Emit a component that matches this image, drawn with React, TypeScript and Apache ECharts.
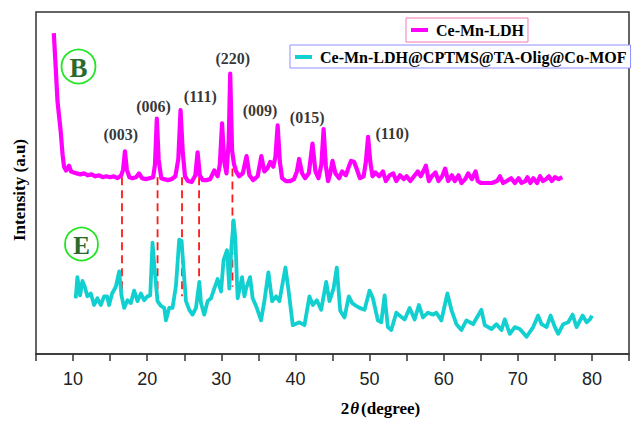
import React, { useEffect, useRef } from 'react';
import * as echarts from 'echarts';

// Ce-Mn-LDH pattern (2θ, intensity a.u.)
const ldhTheta = [
  7.4, 7.66, 7.9, 8.34, 8.58, 8.78, 9.05, 9.46, 9.73, 10.1, 10.5, 11, 11.5, 12, 12.5, 13, 13.5, 14, 14.5, 15, 15.5, 16, 16.5,
  16.75, 17.0, 17.25, 17.6, 18, 18.5, 18.9, 19.3, 19.8, 20.3, 20.8, 21.05, 21.3, 21.55, 21.9, 22.3, 22.8, 23.3, 23.8,
  24.2, 24.5, 24.8, 25.1, 25.5, 26.0, 26.5, 26.8, 27.1, 27.5, 28.0, 28.5, 29.05, 29.5, 29.8, 30.1, 30.4, 30.7, 31.0,
  31.2, 31.45, 31.7, 32.0, 32.4, 32.9, 33.4, 33.8, 34.3, 34.9, 35.4, 35.8, 36.2, 36.6, 37.0, 37.3, 37.6, 37.9, 38.2,
  38.7, 39.3, 39.8, 40.2, 40.5, 40.9, 41.3, 41.8, 42.3, 42.7, 43.1, 43.5, 43.8, 44.1, 44.4, 44.7, 45.0, 45.4, 45.9,
  46.3, 46.8, 47.2, 47.5, 47.9, 48.3, 48.7, 49.2, 49.5, 49.8, 50.1, 50.4, 50.8, 51.3, 51.8, 52.2, 52.7, 53.2, 53.6,
  54.1, 54.6, 55.0, 55.5, 56.0, 56.5, 56.9, 57.3, 57.6, 58.0, 58.4, 58.9, 59.3, 59.8, 60.2, 60.6, 61.1, 61.5, 62.0,
  62.4, 62.9, 63.3, 63.8, 64.3, 64.6, 65.0, 65.8, 66.5, 67.2, 67.6, 68.0, 68.5, 69.1, 69.6, 70.1, 70.5, 71.0, 71.3,
  71.7, 72.1, 72.6, 73.0, 73.4, 73.8, 74.2, 74.6, 75.0, 75.5, 76.0,
];
const ldhIntensity = [
  334, 298, 263, 231, 208, 195, 191, 196, 190, 189, 188, 187, 188, 186, 187, 185, 186, 184, 185, 184, 185, 183, 186,
  192, 211, 192, 184, 183, 184, 188, 183, 182, 183, 184, 197, 245, 202, 183, 182, 181, 182, 185,
  203, 254, 210, 185, 180, 179, 186, 210, 186, 181, 181, 182, 191, 185, 197, 240, 200, 188, 222,
  292, 212, 198, 190, 185, 188, 206, 186, 181, 185, 206, 190, 193, 200, 195, 205, 238, 200, 183,
  180, 180, 182, 190, 203, 188, 183, 188, 219, 190, 183, 197, 234, 196, 180, 188, 201, 188, 183,
  190, 186, 195, 201, 200, 192, 183, 185, 200, 226, 200, 185, 189, 185, 190, 180, 186, 188, 180,
  186, 182, 185, 180, 185, 190, 185, 191, 196, 180, 185, 189, 180, 185, 193, 180, 186, 180, 186,
  178, 182, 188, 182, 190, 180, 178, 178, 178, 180, 185, 178, 180, 183, 178, 183, 178, 180, 184,
  178, 183, 178, 185, 180, 182, 185, 180, 184, 182, 184,
];

// Ce-Mn-LDH@CPTMS@TA-Olig@Co-MOF pattern
const mofTheta = [
  10.36, 10.58, 10.95, 11.26, 11.58, 11.93, 12.39, 12.84, 13.28, 13.74, 14.19, 14.59, 14.86, 15.27, 15.77, 16.22,
  16.53, 16.89, 17.34, 17.8, 18.24, 18.69, 19.15, 19.59, 20.04, 20.41, 20.72, 21.04, 21.39, 21.85, 22.3, 22.53,
  22.97, 23.42, 23.88, 24.32, 24.64, 24.91, 25.23, 25.68, 26.12, 26.58, 27.03, 27.26, 27.7, 28.15, 28.61, 29.05,
  29.5, 29.96, 30.31, 30.77, 31.08, 31.35, 31.66, 31.89, 32.2, 32.8, 33.11, 33.34, 33.88, 34.23, 34.69, 35.36,
  35.81, 36.35, 36.85, 37.39, 37.84, 38.65, 39.09, 39.64, 40.54, 41.22, 41.89, 42.34, 42.88, 43.47, 44.15, 44.59,
  45.14, 45.58, 46.04, 46.62, 47.2, 47.66, 48.2, 48.65, 49.32, 50.0, 50.45, 51.12, 51.58, 52.03, 52.47, 52.93,
  53.61, 54.05, 54.73, 55.41, 56.08, 56.66, 57.2, 57.88, 58.55, 59.01, 59.69, 60.5, 61.04, 61.72, 62.39, 63.07,
  63.96, 65.09, 65.54, 66.45, 67.12, 67.8, 68.24, 68.92, 69.59, 70.27, 71.18, 72.07, 72.74, 73.2, 73.88, 74.42,
  75.0, 75.45, 76.12, 76.8, 77.39, 77.93, 78.74, 79.28, 79.73, 80.0,
];
const mofIntensity = [
  58, 80, 61, 76, 70, 60, 63, 51, 58, 51, 60, 60, 51, 63, 70, 86,
  61, 48, 56, 53, 66, 55, 63, 56, 60, 61, 116, 85, 55, 50, 48, 35,
  48, 48, 71, 119, 118, 88, 55, 46, 41, 48, 75, 53, 41, 55, 58, 68,
  78, 65, 98, 108, 68, 110, 139, 120, 58, 80, 60, 68, 80, 58, 50, 35,
  55, 85, 55, 60, 55, 90, 65, 30, 33, 30, 60, 51, 56, 46, 75, 55,
  68, 90, 45, 38, 60, 53, 50, 48, 46, 66, 58, 35, 33, 61, 28, 25,
  43, 40, 36, 48, 36, 51, 38, 43, 41, 43, 35, 63, 46, 31, 25, 35,
  31, 46, 30, 26, 31, 25, 36, 21, 28, 26, 18, 28, 40, 31, 28, 40,
  28, 21, 31, 33, 41, 28, 40, 33, 36, 40,
];

// dashed reference lines
const refLineTheta = [16.6, 21.4, 24.7, 27.0, 31.5];
const refLineTop = [184, 184, 184, 184, 193];
const refLineBottom = [52, 60, 60, 55, 70];

// Miller index labels
const peakLabels = ['(003)', '(006)', '(111)', '(220)', '(009)', '(015)', '(110)'];
const peakLabelTheta = [16.45, 20.85, 27.16, 31.55, 35.23, 41.58, 53.07];
const peakLabelY = [229, 258, 268, 308, 253, 246, 230];

const seriesNames = ['Ce-Mn-LDH', 'Ce-Mn-LDH@CPTMS@TA-Olig@Co-MOF'];
const tickLabels = ['10', '20', '30', '40', '50', '60', '70', '80'];

const SERIF = '"Liberation Serif", "Times New Roman", serif';
const SANS = '"Liberation Sans", Arial, sans-serif';

export default function App() {
  const ref = useRef<HTMLDivElement>(null);
  useEffect(() => {
    if (!ref.current) return;
    const chart = echarts.init(ref.current, undefined, { renderer: 'svg' });
    const ldhData = ldhTheta.map((t, i) => [t, ldhIntensity[i]]);
    const mofData = mofTheta.map((t, i) => [t, mofIntensity[i]]);
    const dashSeries = refLineTheta.map((t, i) => ({
      type: 'line',
      name: 'ref' + i,
      data: [[t, refLineTop[i]], [t, refLineBottom[i]]],
      symbol: 'none',
      silent: true,
      lineStyle: { color: '#ff1a1a', width: 1.8, type: [8, 5] },
      z: 1,
    }));
    const legendBase = {
      orient: 'horizontal',
      icon: 'rect',
      itemWidth: 17,
      itemHeight: 4,
      borderWidth: 1,
      textStyle: { fontFamily: SERIF, fontWeight: 'bold', fontSize: 16, color: '#000', padding: [0, 0, 0, 3] },
      backgroundColor: '#fff',
    };
    chart.setOption({
      animation: false,
      grid: {
        left: 36,
        right: 2,
        top: 12,
        bottom: 54,
        show: true,
        borderColor: '#333',
        borderWidth: 1.5,
        backgroundColor: 'transparent',
      },
      legend: [
        {
          ...legendBase,
          data: [seriesNames[0]],
          left: 406,
          top: 18,
          padding: [4, 4, 4, 5],
          borderColor: '#f27ab8',
        },
        {
          ...legendBase,
          data: [seriesNames[1]],
          left: 290,
          top: 45,
          padding: [4, 4, 3, 5],
          borderColor: '#9090ff',
        },
      ],
      xAxis: {
        type: 'value',
        min: 5,
        max: 85,
        interval: 5,
        name: '{a|2}{b|θ}{a|(degree)}',
        nameLocation: 'middle',
        nameGap: 46,
        nameTextStyle: {
          padding: [0, 0, 0, 96],
          rich: {
            a: { fontFamily: SERIF, fontWeight: 'bold', fontSize: 17, color: '#000' },
            b: { fontFamily: SERIF, fontWeight: 'bold', fontStyle: 'italic', fontSize: 17, color: '#000', padding: [0, 2, 0, 1] },
          },
        },
        axisLine: { lineStyle: { color: '#333', width: 1.5 } },
        axisTick: { inside: false, length: 7, lineStyle: { color: '#333', width: 1.5 } },
        axisLabel: {
          margin: 16,
          fontFamily: SANS,
          fontSize: 18,
          color: '#222',
          formatter: (v: number) => (tickLabels.includes(String(v)) ? String(v) : ''),
        },
        splitLine: { show: false },
      },
      yAxis: {
        type: 'value',
        min: 0,
        max: 356,
        name: 'Intensity (a.u)',
        nameLocation: 'middle',
        nameGap: 8,
        nameTextStyle: {
          fontFamily: SERIF,
          fontWeight: 'bold',
          fontSize: 17,
          color: '#000',
          padding: [0, 14, 0, 0],
        },
        axisLine: { show: false },
        axisTick: { show: false },
        axisLabel: { show: false },
        splitLine: { show: false },
      },
      series: [
        ...dashSeries,
        {
          type: 'line',
          name: seriesNames[0],
          data: ldhData,
          symbol: 'none',
          color: '#ff00ff',
          lineStyle: { color: '#ff00ff', width: 4.2, join: 'round' },
          z: 3,
        },
        {
          type: 'line',
          name: seriesNames[1],
          data: mofData,
          symbol: 'none',
          color: '#12d0d0',
          lineStyle: { color: '#12d0d0', width: 3.8, join: 'round' },
          z: 2,
        },
        {
          type: 'scatter',
          name: 'labels',
          silent: true,
          symbolSize: 1,
          itemStyle: { color: 'rgba(0,0,0,0)' },
          data: peakLabels.map((n, i) => ({ name: n, value: [peakLabelTheta[i], peakLabelY[i]] })),
          label: {
            show: true,
            position: 'inside',
            formatter: (p: any) => p.name,
            fontFamily: SERIF,
            fontWeight: 'bold',
            fontSize: 16,
            color: '#000',
          },
          z: 5,
        },
      ],
      graphic: [
        { type: 'circle', shape: { cx: 78.5, cy: 66.5, r: 17 }, style: { fill: '#fff', stroke: '#22e622', lineWidth: 1.8 }, z: 10 },
        {
          type: 'text',
          x: 78.5,
          y: 67.5,
          style: { text: 'B', fontFamily: SERIF, fontWeight: 'bold', fontSize: 27, fill: '#2a6a2a', align: 'center', verticalAlign: 'middle' },
          z: 11,
        },
        { type: 'circle', shape: { cx: 81.5, cy: 244, r: 16.5 }, style: { fill: '#fff', stroke: '#22e622', lineWidth: 1.8 }, z: 10 },
        {
          type: 'text',
          x: 81.5,
          y: 245,
          style: { text: 'E', fontFamily: SERIF, fontWeight: 'bold', fontSize: 25, fill: '#2a6a2a', align: 'center', verticalAlign: 'middle' },
          z: 11,
        },
      ],
    });
    return () => chart.dispose();
  }, []);
  return <div ref={ref} style={{ width: 632, height: 422, position: 'absolute', left: 0, top: 0 }} />;
}
